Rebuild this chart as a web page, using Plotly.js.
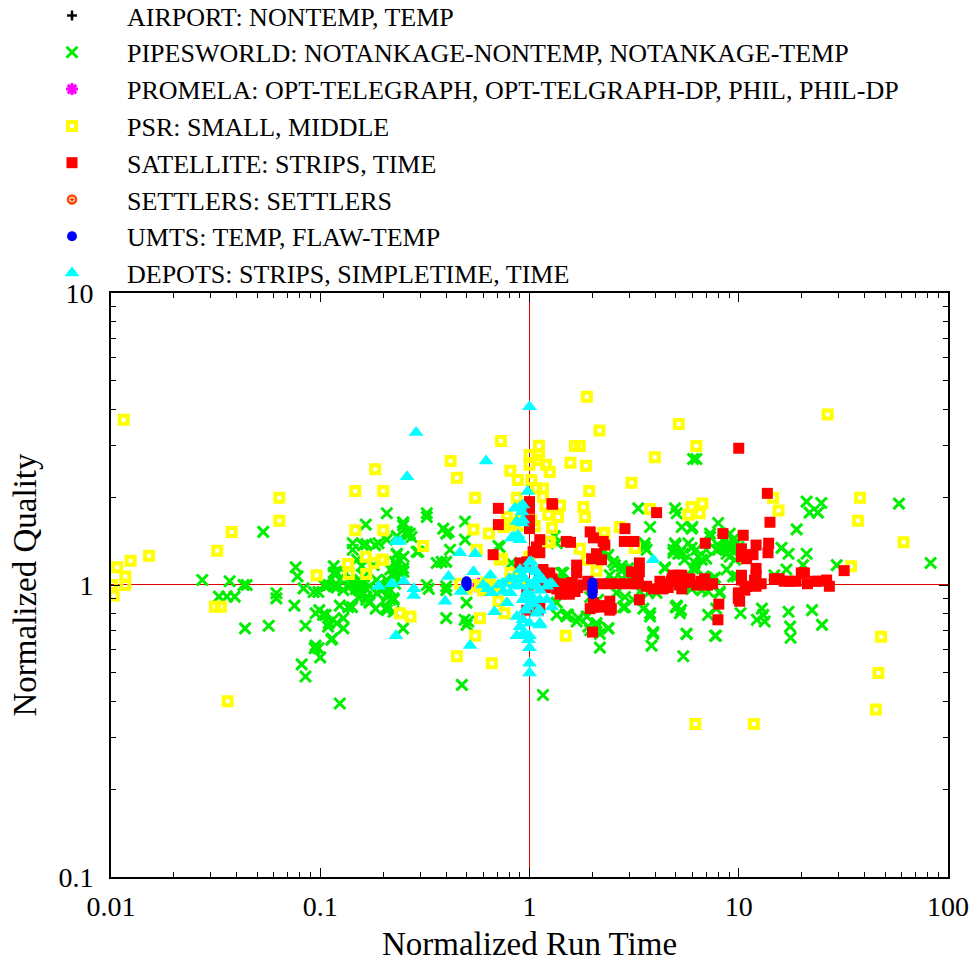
<!DOCTYPE html>
<html><head><meta charset="utf-8">
<script src="https://cdn.plot.ly/plotly-3.0.1.min.js"></script>
<style>html,body{margin:0;padding:0;background:#fff}#chart{width:972px;height:962px}</style>
</head><body><div id="chart"></div>
<script>
// ---- data: [normalized run time, normalized quality] ----
const seriesNames = [
  'AIRPORT: NONTEMP, TEMP',
  'PIPESWORLD: NOTANKAGE-NONTEMP, NOTANKAGE-TEMP',
  'PROMELA: OPT-TELEGRAPH, OPT-TELGRAPH-DP, PHIL, PHIL-DP',
  'PSR: SMALL, MIDDLE',
  'SATELLITE: STRIPS, TIME',
  'SETTLERS: SETTLERS',
  'UMTS: TEMP, FLAW-TEMP',
  'DEPOTS: STRIPS, SIMPLETIME, TIME'
];
const airport = [[1.0,1.0],[0.98,1.02]];
const pipesworld = [
[0.0534,1.52],[0.0273,1.04],[0.0369,1.03],[0.043,1.0],[0.0445,1.0],[0.0328,0.912],[0.0358,0.912],[0.039,0.912],[0.0437,0.71],[0.0567,0.725],[0.0617,0.937],[0.0617,0.9],[0.0763,1.15],[0.0779,1.07],[0.0832,0.974],[0.0753,0.85],[0.085,0.725],[0.0815,0.535],[0.085,0.486],[0.124,0.393],[0.094,0.607],[0.098,0.607],[0.1,0.565],[0.114,0.655],[0.095,0.8],[0.099,0.82],[0.106,0.79],[0.11,0.74],[0.115,0.76],[0.12,0.74],[0.129,0.77],[0.129,0.71],[0.124,0.85],[0.136,0.84],[0.142,0.84],[0.093,0.946],[0.098,0.946],[0.104,1.0],[0.116,0.99],[0.12,0.98],[0.116,1.16],[0.118,1.08],[0.143,1.39],[0.143,1.32],[0.16,1.37],[0.166,1.38],[0.183,1.37],[0.165,1.61],[0.132,1.1],[0.143,1.01],[0.148,0.97],[0.153,1.03],[0.158,0.95],[0.166,0.91],[0.172,0.88],[0.184,0.83],
[0.116,1.1],[0.119,1.11],[0.107,0.99],[0.11,1.0],[0.119,1.01],[0.103,0.79],[0.109,0.72],[0.095,0.62],[0.113,0.65],[0.129,0.96],[0.134,0.99],[0.142,1.01],[0.139,0.99],[0.15,1.0],[0.153,0.96],[0.158,1.01],[0.166,0.97],[0.172,0.99],[0.155,1.04],[0.162,1.07],[0.152,0.91],[0.158,0.92],[0.166,0.89],[0.172,0.87],[0.208,0.84],[0.216,0.89],[0.224,0.9],[0.19,1.39],[0.208,1.43],[0.15,1.22],[0.158,1.16],[0.18,1.17],[0.208,1.76],[0.249,1.63],[0.268,1.5],[0.273,1.46],[0.259,1.52],[0.232,1.27],[0.24,1.22],[0.232,1.16],[0.249,1.14],[0.24,1.1],[0.216,1.13],[0.224,1.07],[0.208,1.04],[0.186,1.04],[0.193,1.01],[0.2,0.99],[0.186,0.94],[0.196,0.96],[0.208,0.92],[0.216,0.96],[0.249,0.71],[0.224,0.81],[0.323,1.76],[0.323,1.0],[0.289,1.3],
[0.249,1.64],[0.249,1.6],[0.323,1.71],[0.492,1.65],[0.387,1.56],[0.41,1.52],[0.40,1.5],[0.492,1.43],[0.417,1.32],[0.294,1.3],[0.36,1.19],[0.38,1.2],[0.40,1.2],[0.232,1.47],[0.232,1.28],[0.228,1.2],[0.25,1.25],[0.26,1.48],[0.2,0.97],[0.224,1.1],[0.24,1.13],[0.25,1.11],[0.228,1.01],[0.21,0.91],[0.224,0.89],[0.208,0.82],[0.33,0.97],[0.40,0.99],[0.40,0.77],[0.50,0.87],[0.49,0.76],[0.50,0.73],[0.51,0.75],[0.475,0.455],[1.16,0.42],[0.71,1.36],[1.35,1.39],[1.42,1.1],[1.35,0.87],[1.53,0.79],[1.71,0.77],[1.88,0.78],[1.91,0.72],[2.1,0.72],[2.38,0.71],[2.17,0.61],[3.31,1.83],[3.77,1.58],[2.76,1.16],[3.13,1.11],[2.96,1.14],[2.34,1.25],[2.51,1.2],[3.56,1.39],[3.63,1.32],[4.44,1.14],[2.86,0.91],[3.13,0.89],[2.8,0.84],[3.77,0.8],[3.9,0.68],[3.83,0.62],[4.96,1.83],[5.0,0.84],[5.0,1.37],[4.87,1.29],
[6.05,2.7],[6.27,2.7],[21.1,1.93],[24.8,1.91],[21.8,1.77],[23.9,1.77],[58.3,1.9],[82.6,1.19],[18.9,1.55],[29.4,1.17],[21.1,1.28],[20.3,1.17],[16.0,1.34],[17.3,1.28],[16.9,1.13],[14.8,1.08],[17.3,0.81],[17.6,0.72],[17.7,0.66],[22.4,0.82],[25.0,0.73],[12.9,0.83],[13.1,0.79],[12.2,0.76],[13.3,0.75],[10.2,0.80],[7.14,0.79],[7.78,0.67],[8.1,0.94],[5.63,0.68],[5.43,0.57],[5.05,0.85],[5.3,0.82],[7.97,1.63],[7.3,1.5],[7.3,1.46],[8.4,1.43],[5.34,1.58],[6.0,1.58],[4.96,1.39],[4.87,1.32],[5.14,1.28],[5.43,1.28],[5.74,1.39],[6.27,1.32],[6.66,1.22],[7.0,1.23],[6.17,1.19],[6.05,1.14],[7.97,1.32],[8.4,1.34],[8.75,1.28],[9.06,1.25],[9.6,1.22],[9.26,1.37],[9.78,1.39],[4.44,1.15],[7.7,1.06],[7.15,0.95],[6.05,1.0],[9.78,1.07],[9.4,1.43],[9.96,1.35],[9.06,1.5],[9.6,1.39],[9.4,1.3],
[5.05,1.76],[5.95,1.56],[3.56,1.35],[5.23,1.29],[5.95,1.34],[6.4,1.25],[7.0,1.32],[7.8,1.32],[8.1,1.35],[9.06,1.39],[2.38,1.27],[2.56,1.17],[2.8,1.13],[2.91,1.08],[2.42,1.08],[2.76,1.05],[3.19,1.11],[5.5,1.22],[6.27,1.14],[6.8,1.07],[7.5,1.05],[8.75,1.13],[9.4,1.07],[1.45,1.1],[1.4,1.04],[2.51,1.04],[2.6,0.94],[3.37,0.95],[3.7,0.94],[4.05,0.94],[5.5,0.99],[5.95,0.97],[6.66,0.96],[8.1,0.95],[2.86,0.84],[3.5,0.83],[3.77,0.78],[5.05,0.84],[5.23,0.8],[7.8,0.83],[1.5,0.78],[1.68,0.75],[1.88,0.78],[2.09,0.74],[2.38,0.71],[1.95,0.7],[2.17,0.68],[3.9,0.69],[5.63,0.68],[7.7,0.67],[1.95,0.91],[2.13,0.89],
[0.72,1.35],[0.82,1.19],[0.40,0.96],[1.32,1.47],[1.35,0.79],[1.5,0.79]
];
const promela = [[0.55,0.99],[0.56,1.0],[0.57,1.01]];
const psr = [
[0.0115,3.68],[0.183,2.49],[0.147,2.1],[0.0637,1.99],[0.0637,1.66],[0.0377,1.52],[0.147,1.54],[0.0322,1.31],[0.0152,1.26],[0.0124,1.21],[0.0107,1.15],[0.0117,1.07],[0.0101,1.0],[0.0117,1.0],[0.0103,0.92],[0.096,1.08],[0.136,1.18],[0.137,1.09],[0.165,1.25],[0.166,1.09],[0.0314,0.843],[0.0335,0.843],[0.0361,0.40],[0.18,1.19],[0.196,1.22],
[1.88,4.41],[2.16,3.38],[5.17,3.56],[0.73,3.11],[1.11,3.0],[1.11,2.79],[1.0,2.79],[1.0,2.58],[1.11,2.68],[1.65,2.99],[1.74,2.99],[1.57,2.62],[1.86,2.56],[3.97,2.74],[0.42,2.66],[0.45,2.33],[1.2,2.58],[1.25,2.44],[0.81,2.46],[0.88,2.29],[1.02,2.29],[3.07,2.24],[1.08,2.14],[1.16,2.14],[1.16,2.0],[1.93,2.1],[0.2,2.1],[0.55,1.99],[0.87,1.99],[1.19,1.87],[1.4,1.87],[1.81,1.85],[1.84,1.71],[1.23,1.74],[1.37,1.71],[0.78,1.71],[0.81,1.6],[3.77,1.82],[0.54,1.55],[0.64,1.5],[1.28,1.57],[1.25,1.4],[0.31,1.36],[0.2,1.54],[2.7,1.58],[2.28,1.51],[1.74,1.33],[3.19,1.34],[0.56,1.32],[0.74,1.23],[0.2,1.22],[2.09,1.12],[0.81,1.1],[0.465,1.01],[0.54,1.0],[0.58,0.99],[0.65,1.0],[0.70,0.99],[0.71,0.88],[0.76,0.8],[0.24,0.8],[0.27,0.78],[0.58,0.77],[0.55,0.67],[0.45,0.57],[0.66,0.54],[1.49,0.67],
[0.75,1.58],[0.79,1.63],[0.9,1.67],[1.02,1.67],[0.93,1.6],[1.06,1.59],[1.0,1.25],[1.0,1.22],[0.72,1.22],[0.81,1.05],[0.87,1.04],[0.9,1.05],[1.23,1.41],[5.74,1.74],[5.95,1.85],[6.5,1.76],[6.7,1.9],[2.25,1.5],[1.88,1.22],[6.27,2.99],[26.6,3.84],[14.6,1.99],[15.5,1.8],[38.0,1.99],[37.1,1.66],[61.3,1.4],[34.4,1.16],[47.9,0.665],[46.5,0.50],[45.2,0.375],[6.2,0.334],[11.8,0.334],[0.5,0.97],[0.6,0.96],[0.62,1.02]
];
const satellite = [
[0.71,1.83],[0.71,1.61],[1.0,1.93],[1.0,1.83],[1.0,1.56],[1.0,1.67],[1.29,1.89],[0.67,1.27],[1.12,1.43],[1.08,1.35],[1.12,1.29],[1.04,1.3],[1.57,1.4],[1.95,1.52],[2.02,1.45],[2.25,1.41],[2.29,1.37],[1.98,1.23],[2.09,1.28],[2.21,1.22],[2.86,1.56],[2.84,1.41],[3.16,1.41],[3.35,1.19],[3.25,1.1],[3.31,1.04],[4.05,1.77],[1.68,1.17],[1.68,1.1],[1.25,1.1],[1.16,1.13],[2.02,0.84],[2.21,0.84],[2.42,0.82],[2.42,0.88],[3.35,0.89],[2.0,0.69],[0.97,0.94],[0.97,0.82],[1.1,0.82],[1.12,0.84],[3.35,1.11],[3.07,1.11],[1.5,1.0],[1.4,1.0],[2.17,1.01],[2.42,1.01],[2.7,1.01],[3.02,1.01],[3.25,1.01],[3.63,0.99],[3.9,0.97],[4.52,1.01],[4.87,1.08],[5.14,1.08],[5.34,1.08],[5.84,1.05],[6.87,1.05],[7.1,1.0],[4.35,0.97],[5.34,0.97],[2.02,0.87],[2.25,0.85],[2.46,0.83],[1.95,0.83],[6.92,1.39],[8.4,1.5],[8.03,0.86],[7.95,0.76],[9.96,0.91],[13.7,2.06],[14.1,1.64],[10.5,1.48],[12.1,1.37],[13.9,1.39],[13.8,1.29],[10.3,1.33],[10.7,1.27],[10.9,1.23],[11.7,1.27],[10.3,1.25],[12.1,1.14],[12.1,1.08],[11.9,1.04],[10.3,1.08],[10.3,1.04],[10.9,0.99],[10.7,0.96],[12.1,0.99],[12.8,1.01],[9.96,0.94],[9.96,0.9],[10.1,0.88],[14.8,1.05],[15.6,1.05],[16.5,1.03],[17.5,1.03],[18.8,1.03],[19.9,1.1],[20.6,1.1],[21.3,1.01],[23.2,1.03],[24.0,1.03],[26.3,1.04],[27.1,0.99],[31.9,1.12],[10.0,2.94],[4.77,1.03],[1.28,1.9],[1.5,1.41],[0.9,1.19],[0.97,1.2],[1.28,1.05],[1.45,1.01],[1.5,0.96],[1.15,1.0],[1.2,0.98],[1.3,1.02],[1.35,0.97],[1.6,1.02],[1.7,0.98],[1.8,1.0],[1.9,1.03],[2.0,0.98],[1.4,0.93],[1.55,0.93],[1.65,0.95],[1.45,0.95],[1.59,0.95],[4.2,1.03],[4.6,0.98],[4.8,1.05],[5.2,1.0],[5.6,1.02],[6.3,1.0],[6.6,1.03],[7.5,1.01]
];
const settlers = [[1.0,0.98]];
const umts = [[0.5,0.99],[0.5,1.0],[0.5,1.01],[0.5,1.02],[0.5,1.03],[2.0,0.93],[2.0,0.95],[2.0,0.97],[2.0,0.99],[2.0,1.01],[2.0,1.02],[1.11,1.05],[1.11,1.07]];
const depots = [
[1.0,4.08],[0.287,3.33],[0.62,2.66],[0.26,2.35],[0.98,2.09],[0.93,1.88],[0.85,1.83],[0.92,1.78],[0.87,1.65],[0.92,1.63],[0.82,1.45],[0.88,1.48],[0.9,1.43],[0.23,1.41],[0.24,1.41],[0.465,1.29],[0.55,1.28],[0.41,1.07],[0.395,0.88],[0.47,0.95],[0.52,0.62],[0.23,0.67],[0.22,1.01],[0.25,1.03],[0.28,0.97],[0.28,0.92],[0.19,0.99],[0.54,1.11],[0.65,1.08],[0.66,0.94],[0.68,0.81],[0.74,1.01],[1.0,1.2],[0.97,1.13],[1.08,1.11],[1.16,1.04],[1.25,1.01],[1.28,0.84],[1.12,0.82],[1.12,0.73],[0.87,0.78],[0.9,0.72],[0.87,0.67],[0.97,0.67],[0.93,0.68],[0.99,0.65],[1.0,0.61],[1.0,0.54],[1.0,0.5],[3.9,1.22],[0.84,1.46],[0.93,1.67],[0.9,1.85],[1.02,1.2],[0.9,1.13],[1.04,1.13],[0.84,1.05],[0.75,1.01],[0.9,0.99],[1.08,0.99],[0.97,0.94],[0.81,0.94],[0.78,0.87],[0.93,0.89],[1.0,0.89],[1.21,0.99],[1.28,1.01],[1.12,0.96],[1.12,0.89],[1.21,0.89],[0.93,0.76],[1.0,0.74],[1.12,0.74],[1.08,0.8],[0.93,0.67],[1.0,0.67],[0.71,1.0],[0.75,0.95],[0.95,1.05],[1.0,1.0],[1.05,1.02],[0.92,1.08],[1.02,0.92],[0.98,0.84],[0.95,0.82],[1.05,0.86],[1.1,1.06],[0.85,1.0],[0.8,1.05],[0.6,1.0],[0.63,0.97]
];
const xTickVals = [0.01, 0.1, 1, 10, 100];
const xTickText = ['0.01', '0.1', '1', '10', '100'];
const yTickVals = [0.1, 1, 10];
const yTickText = ['0.1', '1', '10'];
const minorMult = [2,3,4,5,6,7,8,9];
const xMinor = [0.01,0.1,1,10].flatMap(d => minorMult.map(m => +(m*d).toPrecision(3)));
const yMinor = [0.1,1].flatMap(d => minorMult.map(m => +(m*d).toPrecision(3)));

// ---- styling ----
const FONT = 'Liberation Serif';
function mk(name, pts, marker) {
  return {type:'scatter', mode:'markers', name: name,
    x: pts.map(p => p[0]), y: pts.map(p => p[1]),
    marker: marker, hoverinfo:'x+y+name', cliponaxis:true};
}
const data = [
  mk(seriesNames[0], airport,   {symbol:'cross-thin-open', size:7, color:'#000000', line:{width:2.5, color:'#000000'}}),
  mk(seriesNames[1], pipesworld,{symbol:'x-thin-open', size:11, color:'#00ee00', line:{width:3, color:'#00ee00'}}),
  mk(seriesNames[2], promela,   {symbol:'asterisk-open', size:10, color:'#ff00ff', line:{width:3, color:'#ff00ff'}}),
  mk(seriesNames[3], psr,       {symbol:'square-open', size:8, color:'#ffff00', line:{width:4, color:'#ffff00'}}),
  mk(seriesNames[4], satellite, {symbol:'square', size:11, color:'#ff0000', line:{width:0}}),
  mk(seriesNames[5], settlers,  {symbol:'circle-open-dot', size:8, color:'#ff4500', line:{width:2.5, color:'#ff4500'}}),
  mk(seriesNames[6], umts,      {symbol:'circle', size:10, color:'#0000ff', line:{width:0}}),
  mk(seriesNames[7], depots,    {symbol:'triangle-up', size:13, color:'#00ffff', line:{width:0}})
];

const axisCommon = {
  type:'log', showgrid:false, zeroline:false,
  showline:true, linecolor:'#000', linewidth:2, mirror:'ticks',
  ticks:'inside', ticklen:9, tickwidth:1, tickcolor:'#000',
  tickmode:'array',
  tickfont:{family:FONT, size:28, color:'#000'}
};
const layout = {
  width:972, height:962,
  margin:{l:111, r:24, t:293, b:85, autoexpand:false},
  paper_bgcolor:'#ffffff', plot_bgcolor:'#ffffff',
  font:{family:FONT, size:28, color:'#000'},
  showlegend:true,
  legend:{x:(17-111)/837, xanchor:'left', y:1+(293+7.9)/584, yanchor:'top',
    font:{family:FONT, size:26, color:'#000'}, itemwidth:100,
    bgcolor:'rgba(0,0,0,0)', borderwidth:0, maxheight:600},
  xaxis:Object.assign({}, axisCommon, {range:[-2,2], tickvals:xTickVals, ticktext:xTickText, ticklabelstandoff:3,
    minor:{ticks:'inside', ticklen:5, tickwidth:1, tickcolor:'#000', tickmode:'array', tickvals:xMinor, showgrid:false},
    title:{text:'Normalized Run Time', font:{family:FONT, size:33, color:'#000'}, standoff:19}}),
  yaxis:Object.assign({}, axisCommon, {range:[-1,1], tickvals:yTickVals, ticktext:yTickText, ticklabelstandoff:10,
    minor:{ticks:'inside', ticklen:5, tickwidth:1, tickcolor:'#000', tickmode:'array', tickvals:yMinor, showgrid:false},
    title:{text:'Normalized Quality', font:{family:FONT, size:33, color:'#000'}, standoff:12}}),
  shapes:[
    {type:'line', xref:'paper', yref:'paper', x0:0, x1:1, y0:0.5+0.5/584, y1:0.5+0.5/584, layer:'below', line:{color:'#e00000', width:1}},
    {type:'line', xref:'paper', yref:'paper', x0:0.5, x1:0.5, y0:0, y1:1, layer:'below', line:{color:'#e00000', width:1}}
  ]
};
Plotly.newPlot('chart', data, layout, {displayModeBar:false, staticPlot:true});
</script>
</body></html>
